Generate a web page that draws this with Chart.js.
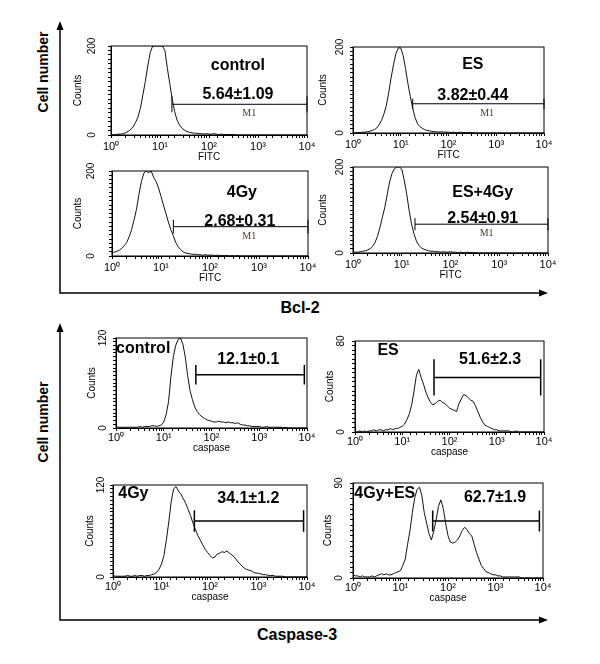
<!DOCTYPE html>
<html>
<head>
<meta charset="utf-8">
<script src="https://cdn.jsdelivr.net/npm/chart.js@4.4.1/dist/chart.umd.min.js"></script>
<style>
html,body{margin:0;padding:0;background:#fff;}
#page{position:relative;width:600px;height:664px;overflow:hidden;background:#fff;font-family:"Liberation Sans",Arial,sans-serif;}
#page canvas{position:absolute;}
#page svg{position:absolute;left:0;top:0;}
.lbl{position:absolute;font-weight:bold;font-size:16px;color:#000;white-space:nowrap;transform:translate(-50%,-50%);}
.vlbl{position:absolute;font-weight:bold;font-size:14px;color:#000;white-space:nowrap;transform:translate(-50%,-50%) rotate(-90deg);}
</style>
</head>
<body>
<div id="page">
<svg width="600" height="664">
  <g stroke="#000" stroke-width="1.5" fill="none">
    <polyline points="60,28 60,293 541,293"/>
    <polyline points="60,330 60,620 541,620"/>
  </g>
  <g fill="#000">
    <polygon points="60,21 56.5,30 63.5,30"/>
    <polygon points="548,293 539,289.5 539,296.5"/>
    <polygon points="60,323 56.5,332 63.5,332"/>
    <polygon points="548,620 539,616.5 539,623.5"/>
  </g>
</svg>
<div class="vlbl" style="left:43px;top:72px;">Cell number</div>
<div class="vlbl" style="left:43px;top:422px;">Cell number</div>
<div class="lbl" style="left:300px;top:308px;">Bcl-2</div>
<div class="lbl" style="left:297px;top:635px;">Caspase-3</div>
</div>
<script>
// ---------- data ----------
// fluorescence channel positions (log-spaced, 20 per decade, 10^0 .. 10^4)
const CHANNELS = [
  1, 1.122, 1.259, 1.413, 1.585, 1.778, 1.995, 2.239, 2.512, 2.818,
  3.162, 3.548, 3.981, 4.467, 5.012, 5.623, 6.310, 7.079, 7.943, 8.913,
  10, 11.22, 12.59, 14.13, 15.85, 17.78, 19.95, 22.39, 25.12, 28.18,
  31.62, 35.48, 39.81, 44.67, 50.12, 56.23, 63.10, 70.79, 79.43, 89.13,
  100, 112.2, 125.9, 141.3, 158.5, 177.8, 199.5, 223.9, 251.2, 281.8,
  316.2, 354.8, 398.1, 446.7, 501.2, 562.3, 631.0, 707.9, 794.3, 891.3,
  1000, 1122, 1259, 1413, 1585, 1778, 1995, 2239, 2512, 2818,
  3162, 3548, 3981, 4467, 5012, 5623, 6310, 7079, 7943, 8913,
  10000
];
const BCL2_CONTROL = [
  0,1,1,2,2,3,5,8,12,18,
  28,40,60,90,120,155,185,200,200,200,
  200,200,190,150,115,80,52,33,22,15,
  11,8,6,5,4,4,3,3,2,3,
  2,2,3,2,1,2,1,1,1,1,
  1,0,0,0,0,0,0,0,0,0,
  0,0,0,0,0,0,0,0,0,0,
  0,0,0,0,0,0,0,0,0,0,
  0
];
const BCL2_ES = [
  0,0,1,1,2,2,3,4,6,8,
  12,20,30,45,65,95,130,160,185,198,
  198,180,150,115,85,58,36,22,15,11,
  8,6,5,4,3,3,2,3,2,2,
  2,1,2,1,1,2,1,1,1,1,
  1,0,0,0,0,0,0,0,0,0,
  0,0,0,0,0,0,0,0,0,0,
  0,0,0,0,0,0,0,0,0,0,
  0
];
const BCL2_4GY = [
  8,9,11,14,18,24,32,45,62,85,
  110,145,175,195,200,196,200,185,175,160,
  140,120,100,80,62,48,32,22,15,10,
  7,6,5,4,4,3,3,2,3,2,
  2,2,1,2,1,1,1,1,0,1,
  0,1,0,0,0,0,0,0,0,0,
  0,0,0,0,0,0,0,0,0,0,
  0,0,0,0,0,0,0,0,0,0,
  0
];
const BCL2_ES_4GY = [
  2,2,2,3,4,5,7,10,15,24,
  38,58,82,105,135,165,185,196,200,200,
  195,170,138,100,68,45,28,18,12,9,
  7,5,4,4,3,3,2,3,2,2,
  3,2,2,1,2,1,1,2,1,1,
  1,0,0,0,0,0,0,0,0,0,
  0,0,0,0,0,0,0,0,0,0,
  0,0,0,0,0,0,0,0,0,0,
  0
];
const CASP_CONTROL = [
  2,1,1,1,1,1,1,1,1,1,
  2,1,2,2,2,3,3,2,3,4,
  8,18,35,68,95,110,118,120,112,95,
  70,50,38,28,22,18,15,13,11,10,
  9,8,8,9,8,8,7,8,7,7,
  6,7,5,4,4,3,3,2,2,2,
  2,1,1,2,1,1,1,1,1,1,
  0,1,0,0,0,0,0,0,0,0,
  0
];
const CASP_ES = [
  0,0,1,0,1,0,1,1,2,1,
  2,2,1,2,2,3,2,3,3,4,
  5,7,11,16,24,36,50,55,48,42,
  35,30,26,24,25,27,28,26,25,23,
  21,20,19,18,25,29,33,32,30,28,
  27,23,18,13,9,6,5,4,3,2,
  2,1,1,1,1,1,0,0,1,0,
  0,0,0,0,0,0,0,0,0,0,
  0
];
const CASP_4GY = [
  2,1,1,1,1,1,2,1,1,2,
  1,2,2,1,2,2,3,4,6,10,
  17,28,48,72,98,115,118,112,108,102,
  96,88,80,70,62,54,48,42,36,32,
  28,25,26,30,31,33,32,34,31,29,
  26,22,18,15,12,10,9,8,6,5,
  5,4,3,3,2,2,2,1,1,1,
  1,0,0,0,0,0,0,0,0,0,
  0
];
const CASP_4GY_ES = [
  3,2,2,1,2,1,1,1,2,1,
  2,3,4,3,4,3,3,4,5,6,
  7,12,18,32,45,62,76,84,86,78,
  62,52,42,36,44,55,68,74,66,52,
  40,34,33,34,36,40,45,48,46,42,
  40,32,24,18,12,9,6,5,4,3,
  3,2,2,1,1,1,1,1,1,1,
  1,0,0,0,0,0,0,0,0,0,
  0
];
const SERIES = [BCL2_CONTROL, BCL2_ES, BCL2_4GY, BCL2_ES_4GY, CASP_CONTROL, CASP_ES, CASP_4GY, CASP_4GY_ES];
const PANEL_TITLES = ['control', 'ES', '4Gy', 'ES+4Gy', 'control', 'ES', '4Gy', '4Gy+ES'];
const PANEL_VALUES = ['5.64\u00B11.09', '3.82\u00B10.44', '2.68\u00B10.31', '2.54\u00B10.91', '12.1\u00B10.1', '51.6\u00B12.3', '34.1\u00B11.2', '62.7\u00B11.9'];
const X_TITLES = ['FITC', 'FITC', 'FITC', 'FITC', 'caspase', 'caspase', 'caspase', 'caspase'];
const Y_MAX = [200, 200, 200, 200, 120, 80, 120, 90];
const X_TICK_VALUES = [1, 10, 100, 1000, 10000];
const X_TICK_LABELS = ['10\u2070', '10\u00B9', '10\u00B2', '10\u00B3', '10\u2074'];
// marker gates: [start, end, level]
const GATES = [
  [17.5, 10000, 69], [17.8, 10000, 68], [17.9, 10000, 69], [18.7, 10000, 67],
  [47, 8800, 71], [47, 8500, 48], [47.6, 8500, 73], [47.6, 8400, 54]
];

// ---------- layout / style ----------
const LAYOUT = [
  {box:[111,46,307,135], step:10, cap:18, xh:28, tp:2, cx:33, yl:19, title:[2.59,157], value:[2.59,90], m1:[2.82,49]},
  {box:[353,47,544,133], step:10, cap:12, xh:28, tp:2, cx:30, yl:13, title:[2.51,158], value:[2.51,86], m1:[2.81,46]},
  {box:[112,171,308,256], step:10, cap:16, xh:28, tp:2, cx:34, yl:21, title:[2.65,149], value:[2.61,82], m1:[2.80,47]},
  {box:[353,167,548,253], step:10, cap:14, xh:28, tp:2, cx:30, yl:13, title:[2.66,140], value:[2.66,81], m1:[2.74,46]},
  {box:[116,338,307,428], step:5, cap:13, xh:26, tp:0, cx:24, yl:13, title:[0.57,106], value:[2.77,91.6]},
  {box:[355,341,544,432], step:4, cap:16, xh:26, tp:0, cx:25, yl:14, title:[0.70,71.5], value:[2.86,64]},
  {box:[113,485,307,577], step:5, cap:14, xh:26, tp:0, cx:23, yl:12, title:[0.42,109], value:[2.79,102.6]},
  {box:[353,483,543,578], step:5, cap:10, xh:26, tp:0, cx:25, yl:14, title:[0.67,80], value:[2.99,76]}
];
const FONT = '"Liberation Sans", Arial, sans-serif';
const PAD_T = 10, PAD_R = 14, YW = 42;

const decoPlugin = {
  id: 'deco',
  afterDraw(chart, args, o) {
    const ctx = chart.ctx, a = chart.chartArea, xs = chart.scales.x, ys = chart.scales.y;
    ctx.save();
    // frame
    ctx.strokeStyle = '#000'; ctx.lineWidth = 1;
    ctx.strokeRect(a.left, a.top, a.right - a.left, a.bottom - a.top);
    // gate marker
    const g = o.gate;
    const gx1 = xs.getPixelForValue(g[0]), gx2 = xs.getPixelForValue(g[1]), gy = ys.getPixelForValue(g[2]);
    const hc = ys.getPixelForValue(g[2] - o.cap) - gy;
    ctx.lineWidth = o.gateWidth;
    ctx.beginPath();
    ctx.moveTo(gx1, gy); ctx.lineTo(gx2, gy);
    ctx.moveTo(gx1, gy - hc); ctx.lineTo(gx1, gy + hc);
    ctx.moveTo(gx2, gy - hc); ctx.lineTo(gx2, gy + hc);
    ctx.stroke();
    // texts
    ctx.fillStyle = '#000';
    ctx.textAlign = 'center'; ctx.textBaseline = 'middle';
    ctx.font = 'bold 16px ' + FONT;
    ctx.fillText(o.title, xs.getPixelForValue(Math.pow(10, o.titlePos[0])), ys.getPixelForValue(o.titlePos[1]));
    ctx.fillText(o.value, xs.getPixelForValue(Math.pow(10, o.valuePos[0])), ys.getPixelForValue(o.valuePos[1]));
    if (o.m1Pos) {
      ctx.font = '10px "Liberation Serif", "Times New Roman", serif';
      ctx.fillStyle = '#4a3a2a';
      ctx.fillText('M1', xs.getPixelForValue(Math.pow(10, o.m1Pos[0])), ys.getPixelForValue(o.m1Pos[1]));
    }
    // rotated y labels (0 and max)
    ctx.fillStyle = '#000';
    ctx.font = '10px ' + FONT;
    [0, o.ymax].forEach(v => {
      ctx.save();
      ctx.translate(a.left - o.yl, ys.getPixelForValue(v));
      ctx.rotate(-Math.PI / 2);
      ctx.fillText(String(v), 0, 0);
      ctx.restore();
    });
    ctx.restore();
  }
};

const page = document.getElementById('page');
LAYOUT.forEach((L, i) => {
  const [l, t, r, b] = L.box;
  const w = (r - l) + YW + PAD_R, h = (b - t) + PAD_T + L.xh;
  const cv = document.createElement('canvas');
  cv.width = w; cv.height = h;
  cv.style.left = (l - YW) + 'px'; cv.style.top = (t - PAD_T) + 'px';
  cv.style.width = w + 'px'; cv.style.height = h + 'px';
  page.appendChild(cv);
  const vals = SERIES[i];
  new Chart(cv, {
    type: 'line',
    data: {
      datasets: [{
        data: CHANNELS.map((c, k) => ({x: c, y: vals[k]})),
        borderColor: '#111', borderWidth: 1, pointRadius: 0, tension: 0, fill: false
      }]
    },
    options: {
      responsive: false, animation: false, devicePixelRatio: 1,
      layout: {padding: {left: 0, top: PAD_T, right: PAD_R, bottom: 0}},
      plugins: {
        legend: {display: false}, tooltip: {enabled: false},
        deco: {
          gate: GATES[i], cap: L.cap, gateWidth: i < 4 ? 1 : 1.5,
          title: PANEL_TITLES[i], value: PANEL_VALUES[i],
          titlePos: L.title, valuePos: L.value, m1Pos: L.m1 || null,
          ymax: Y_MAX[i], yl: L.yl
        }
      },
      scales: {
        x: {
          type: 'logarithmic', min: 1, max: 10000,
          afterFit: s => { s.height = L.xh; },
          border: {display: true, color: '#000', width: 1},
          grid: {drawOnChartArea: false, drawTicks: true, tickLength: 3, color: '#000'},
          ticks: {
            autoSkip: false, minRotation: 0, maxRotation: 0, padding: L.tp, color: '#000',
            font: {size: 11, family: FONT},
            callback: v => {
              const idx = X_TICK_VALUES.findIndex(t => Math.abs(t - v) < 1e-6 * t);
              return idx >= 0 ? X_TICK_LABELS[idx] : '';
            }
          },
          title: {display: true, text: X_TITLES[i], color: '#000', font: {size: 10, family: FONT}, padding: {top: 0, bottom: 0}}
        },
        y: {
          type: 'linear', min: 0, max: Y_MAX[i],
          afterFit: s => { s.width = YW; },
          border: {display: true, color: '#000', width: 1},
          grid: {drawOnChartArea: false, drawTicks: true, tickLength: 3, color: '#000'},
          ticks: {display: false, stepSize: L.step, autoSkip: false},
          title: {display: true, text: 'Counts', color: '#000', font: {size: 10, family: FONT}, padding: {top: 36 - L.cx, bottom: 0}}
        }
      }
    },
    plugins: [decoPlugin]
  });
});
</script>
</body>
</html>
